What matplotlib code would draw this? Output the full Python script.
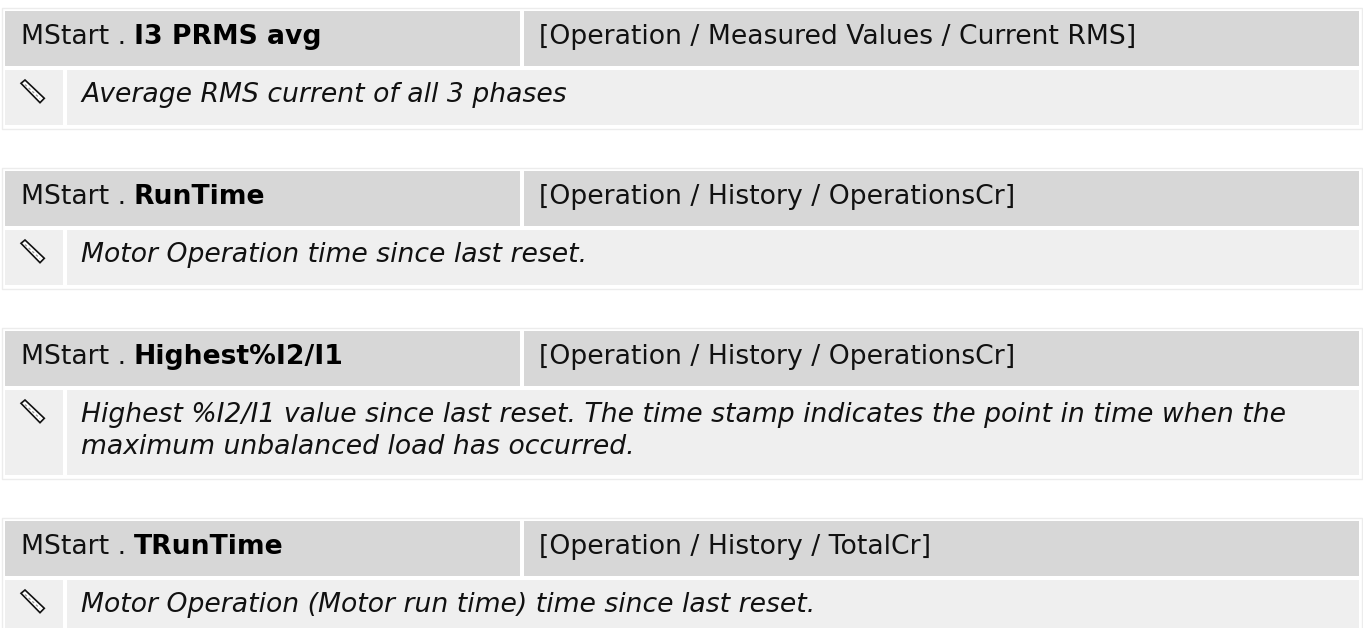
import matplotlib
matplotlib.use('Agg')
import matplotlib.pyplot as plt
from matplotlib.patches import Rectangle, Polygon

# text of the four parameter blocks
prefix = "MStart ."
names = ["I3 PRMS avg", "RunTime", "Highest%I2/I1", "TRunTime"]
paths = ["[Operation / Measured Values / Current RMS]",
         "[Operation / History / OperationsCr]",
         "[Operation / History / OperationsCr]",
         "[Operation / History / TotalCr]"]
descriptions = [["Average RMS current of all 3 phases"],
                ["Motor Operation time since last reset."],
                ["Highest %I2/I1 value since last reset. The time stamp indicates the point in time when the",
                 "maximum unbalanced load has occurred."],
                ["Motor Operation (Motor run time) time since last reset."]]

# top of each header and height of each description row, in pixels
tops = [11, 171, 331, 521]
row_heights = [55, 55, 85, 48]

W, H = 1363, 628
FONT = 19.2
HEAD = '#d7d7d7'
ROW = '#efefef'
EDGE = '#ececec'

fig = plt.figure(figsize=(W / 100, H / 100), dpi=100)
ax = fig.add_axes([0, 0, 1, 1])
ax.set_xlim(0, W)
ax.set_ylim(H, 0)
ax.axis('off')


def box(x0, y0, x1, y1, color):
    ax.add_patch(Rectangle((x0, y0), x1 - x0, y1 - y0, facecolor=color, edgecolor='none'))


for name, path, desc, top, rh in zip(names, paths, descriptions, tops, row_heights):
    bottom = top + 59 + rh
    # thin outer frame
    ax.add_patch(Rectangle((1.5, top - 3.5), W - 3, bottom - top + 7, facecolor='white',
                           edgecolor=EDGE, linewidth=1))
    box(5, top, 520, top + 55, HEAD)
    box(524, top, 1359, top + 55, HEAD)
    box(5, top + 59, 63, bottom, ROW)
    box(67, top + 59, 1359, bottom, ROW)

    # header text: normal prefix followed by bold name
    ax.text(21, top + 33, prefix, fontsize=FONT, va='baseline', color='#111111')
    ax.text(134, top + 33, name, fontsize=FONT, fontweight='bold', va='baseline', color='black')
    ax.text(539, top + 33, path, fontsize=FONT, va='baseline', color='#111111')

    # description lines
    for i, line in enumerate(desc):
        ax.text(81, top + 91 + i * 32, line, fontsize=FONT, style='italic',
                va='baseline', color='#111111')

    # pencil icon
    ix, iy = 21, top + 69
    ax.add_patch(Polygon([(ix, iy + 3.3), (ix + 4, iy), (ix + 23.3, iy + 18.3), (ix + 19, iy + 22.7)],
                         closed=True, facecolor='white', edgecolor='#111111', linewidth=1.2))
    ax.plot([ix + 4, ix + 19], [iy + 4.5, iy + 18.5], color='#999999', linewidth=0.9,
            linestyle=(0, (2, 2)))

fig.savefig('out.png', dpi=100)
